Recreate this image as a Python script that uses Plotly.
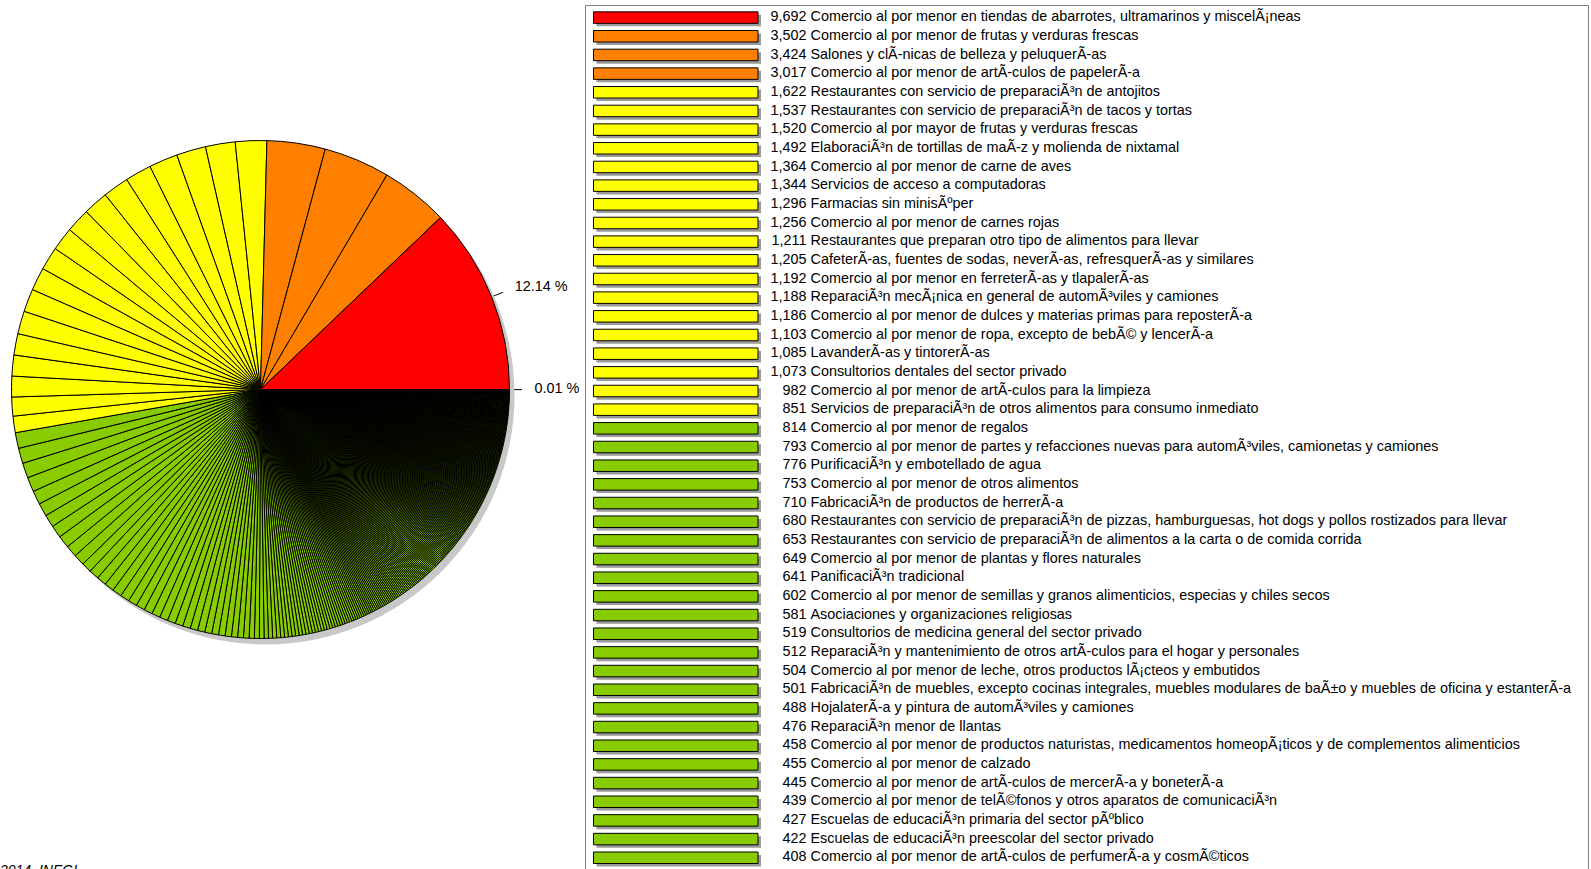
import numpy as np
import plotly.graph_objects as go

W, H = 1591, 869

# Unidades económicas por clase de actividad: las 46 clases principales
top_counts = [9692, 3502, 3424, 3017, 1622, 1537, 1520, 1492, 1364, 1344, 1296, 1256,
              1211, 1205, 1192, 1188, 1186, 1103, 1085, 1073, 982, 851, 814, 793, 776,
              753, 710, 680, 653, 649, 641, 602, 581, 519, 512, 504, 501, 488, 476, 458,
              455, 445, 439, 427, 422, 408]
top_names = [
    "Comercio al por menor en tiendas de abarrotes, ultramarinos y miscelÃ¡neas",
    "Comercio al por menor de frutas y verduras frescas",
    "Salones y clÃ-nicas de belleza y peluquerÃ-as",
    "Comercio al por menor de artÃ-culos de papelerÃ-a",
    "Restaurantes con servicio de preparaciÃ³n de antojitos",
    "Restaurantes con servicio de preparaciÃ³n de tacos y tortas",
    "Comercio al por mayor de frutas y verduras frescas",
    "ElaboraciÃ³n de tortillas de maÃ-z y molienda de nixtamal",
    "Comercio al por menor de carne de aves",
    "Servicios de acceso a computadoras",
    "Farmacias sin minisÃºper",
    "Comercio al por menor de carnes rojas",
    "Restaurantes que preparan otro tipo de alimentos para llevar",
    "CafeterÃ-as, fuentes de sodas, neverÃ-as, refresquerÃ-as y similares",
    "Comercio al por menor en ferreterÃ-as y tlapalerÃ-as",
    "ReparaciÃ³n mecÃ¡nica en general de automÃ³viles y camiones",
    "Comercio al por menor de dulces y materias primas para reposterÃ-a",
    "Comercio al por menor de ropa, excepto de bebÃ© y lencerÃ-a",
    "LavanderÃ-as y tintorerÃ-as",
    "Consultorios dentales del sector privado",
    "Comercio al por menor de artÃ-culos para la limpieza",
    "Servicios de preparaciÃ³n de otros alimentos para consumo inmediato",
    "Comercio al por menor de regalos",
    "Comercio al por menor de partes y refacciones nuevas para automÃ³viles, camionetas y camiones",
    "PurificaciÃ³n y embotellado de agua",
    "Comercio al por menor de otros alimentos",
    "FabricaciÃ³n de productos de herrerÃ-a",
    "Restaurantes con servicio de preparaciÃ³n de pizzas, hamburguesas, hot dogs y pollos rostizados para llevar",
    "Restaurantes con servicio de preparaciÃ³n de alimentos a la carta o de comida corrida",
    "Comercio al por menor de plantas y flores naturales",
    "PanificaciÃ³n tradicional",
    "Comercio al por menor de semillas y granos alimenticios, especias y chiles secos",
    "Asociaciones y organizaciones religiosas",
    "Consultorios de medicina general del sector privado",
    "ReparaciÃ³n y mantenimiento de otros artÃ-culos para el hogar y personales",
    "Comercio al por menor de leche, otros productos lÃ¡cteos y embutidos",
    "FabricaciÃ³n de muebles, excepto cocinas integrales, muebles modulares de baÃ±o y muebles de oficina y estanterÃ-a",
    "HojalaterÃ-a y pintura de automÃ³viles y camiones",
    "ReparaciÃ³n menor de llantas",
    "Comercio al por menor de productos naturistas, medicamentos homeopÃ¡ticos y de complementos alimenticios",
    "Comercio al por menor de calzado",
    "Comercio al por menor de artÃ-culos de mercerÃ-a y boneterÃ-a",
    "Comercio al por menor de telÃ©fonos y otros aparatos de comunicaciÃ³n",
    "Escuelas de educaciÃ³n primaria del sector pÃºblico",
    "Escuelas de educaciÃ³n preescolar del sector privado",
    "Comercio al por menor de artÃ-culos de perfumerÃ-a y cosmÃ©ticos",
]

# Resto de las clases, de mayor a menor
rest_counts = [401, 389, 376, 362, 351, 340, 328, 317, 300, 288, 271, 258, 240, 226,
               214, 209, 203, 198, 194, 190, 186, 181, 177, 173, 170, 166, 162, 159,
               155, 152, 149, 146, 143, 140, 137, 134, 131, 128, 125, 122, 120, 118,
               115, 113, 111, 109, 107, 105, 103, 101]

# Clases pequeñas: número de unidades y cuántas clases tienen ese número
small_values = [99, 98, 97, 96, 95, 94, 93, 92, 91, 90, 89, 88, 87, 86, 85, 84, 83, 82, 81, 80,
                79, 78, 77, 76, 75, 74, 73, 72, 71, 70, 69, 68, 67, 66, 65, 64, 63, 62, 61, 60,
                59, 58, 57, 56, 55, 54, 53, 52, 51, 50, 49, 48, 47, 46, 45, 44, 43, 42, 41, 40,
                39, 38, 37, 36, 35, 34, 33, 32, 31, 30, 29, 28, 27, 26, 25, 24, 23, 22, 21, 20,
                19, 18, 17, 16, 15, 14, 13, 12, 11, 10, 9, 8]
small_freq = [2, 1, 2, 2, 3, 2, 2, 3, 2, 2, 3, 2, 2, 3, 2, 2, 3, 2, 2, 3,
              3, 2, 3, 3, 2, 3, 3, 3, 2, 4, 3, 3, 3, 4, 3, 3, 4, 3, 3, 4,
              3, 3, 4, 3, 4, 3, 4, 4, 3, 5, 4, 4, 4, 5, 4, 4, 5, 4, 5, 5,
              3, 3, 3, 3, 3, 3, 3, 3, 3, 3, 3, 3, 3, 3, 3, 3, 3, 3, 3, 3,
              2, 2, 2, 3, 2, 2, 2, 2, 2, 2, 1, 1]

source_note = "<i>2014, INEGI</i>"


def level_color(v):
    if v >= 5000:
        return "#FF0000"
    if v >= 2000:
        return "#FF8000"
    if v >= 840:
        return "#FFFF00"
    return "#88CC00"


values = np.array(top_counts + rest_counts + list(np.repeat(small_values, small_freq)), dtype=float)
total = values.sum()
colors = [level_color(v) for v in values]

FONT = "Liberation Sans, Arial, sans-serif"

# Pie geometry (pixels)
cx, cy, R = 260.5, 389.5, 249.0
sdx, sdy = 5.0, 6.0


def px_dom_x(a, b):
    return [a / W, b / W]


def px_dom_y(top, bottom):
    return [(H - bottom) / H, (H - top) / H]


fig = go.Figure()

# Drop shadow of the pie
fig.add_trace(go.Pie(
    values=[1], marker=dict(colors=["#C8C8C8"], line=dict(width=0)),
    textinfo="none", hoverinfo="skip", sort=False, showlegend=False,
    domain=dict(x=px_dom_x(cx - R + sdx, cx + R + sdx), y=px_dom_y(cy - R + sdy, cy + R + sdy)),
))

# Pie: slices run counter-clockwise from 3 o'clock (drawn reversed, clockwise)
fig.add_trace(go.Pie(
    values=values[::-1], marker=dict(colors=colors[::-1], line=dict(color="black", width=1)),
    textinfo="none", hoverinfo="value+percent", sort=False, direction="clockwise",
    rotation=90, showlegend=False,
    domain=dict(x=px_dom_x(cx - R, cx + R), y=px_dom_y(cy - R, cy + R)),
))

# Percentage labels with short ticks for the largest and the smallest slice
theta = 2 * np.pi * (np.cumsum(values) - values / 2) / total
lab_idx = [0, len(values) - 1]
tx, ty = [], []
for i in lab_idx:
    tx += [np.cos(theta[i]), 1.05 * np.cos(theta[i]), None]
    ty += [np.sin(theta[i]), 1.05 * np.sin(theta[i]), None]
fig.add_trace(go.Scatter(
    x=tx, y=ty, mode="lines", line=dict(color="black", width=1),
    xaxis="x2", yaxis="y2", hoverinfo="skip", showlegend=False,
))
fig.add_trace(go.Scatter(
    x=[1.1 * np.cos(theta[i]) for i in lab_idx],
    y=[1.1 * np.sin(theta[i]) for i in lab_idx],
    text=[f"{values[i] / total * 100:.2f} %" for i in lab_idx],
    mode="text", textposition="middle right", cliponaxis=False,
    textfont=dict(family=FONT, size=14.4, color="black"),
    xaxis="x2", yaxis="y2", hoverinfo="skip", showlegend=False,
))

# Legend: swatches, shadows and labels (x in pixels, y in rows)
rows = np.arange(len(top_counts))
pitch, row0 = 18.67, 17.6
sw_x0, sw_x1, sw_h = 593.5, 758.0, 11.5
sh = 3.0
fig.add_trace(go.Bar(
    y=rows + sh / pitch, x=[sw_x1 - sw_x0] * len(rows), base=sw_x0 + sh, orientation="h",
    width=sw_h / pitch, marker=dict(color="#9A9A9A", line=dict(width=0)),
    hoverinfo="skip", showlegend=False,
))
fig.add_trace(go.Bar(
    y=rows, x=[sw_x1 - sw_x0] * len(rows), base=sw_x0, orientation="h",
    width=sw_h / pitch,
    marker=dict(color=[level_color(v) for v in top_counts], line=dict(color="black", width=1)),
    hoverinfo="skip", showlegend=False,
))
fig.add_trace(go.Scatter(
    x=[806.5] * len(rows), y=rows, text=[f"{v:,}" for v in top_counts],
    mode="text", textposition="middle left", cliponaxis=False,
    textfont=dict(family=FONT, size=14.4, color="black"),
    hoverinfo="skip", showlegend=False,
))
fig.add_trace(go.Scatter(
    x=[810.5] * len(rows), y=rows, text=top_names,
    mode="text", textposition="middle right", cliponaxis=False,
    textfont=dict(family=FONT, size=14.4, color="black"),
    hoverinfo="skip", showlegend=False,
))

hidden = dict(visible=False, showgrid=False, zeroline=False, fixedrange=True)
fig.update_layout(
    width=W, height=H, margin=dict(l=0, r=0, t=0, b=0),
    paper_bgcolor="white", plot_bgcolor="rgba(0,0,0,0)",
    barmode="overlay", showlegend=False,
    xaxis=dict(domain=[0, 1], range=[0, W], **hidden),
    yaxis=dict(domain=[0, 1], range=[(H - row0) / pitch, -row0 / pitch], **hidden),
    xaxis2=dict(domain=px_dom_x(cx - 1.04 * R, cx + 1.3 * R), range=[-1.04, 1.3],
                anchor="y2", **hidden),
    yaxis2=dict(domain=px_dom_y(cy - 1.2 * R, cy + 1.2 * R), range=[-1.2, 1.2],
                anchor="x2", **hidden),
    shapes=[dict(type="rect", xref="paper", yref="paper",
                 x0=585.5 / W, x1=1588.5 / W, y0=-0.02, y1=1 - 5.5 / H,
                 line=dict(color="#808080", width=1), fillcolor="rgba(0,0,0,0)", layer="below")],
    annotations=[dict(text=source_note, xref="paper", yref="paper",
                      x=79 / W, y=(H - 860) / H, xanchor="right", yanchor="top",
                      showarrow=False, font=dict(family=FONT, size=14, color="black"))],
)

fig.write_html("out.html")
